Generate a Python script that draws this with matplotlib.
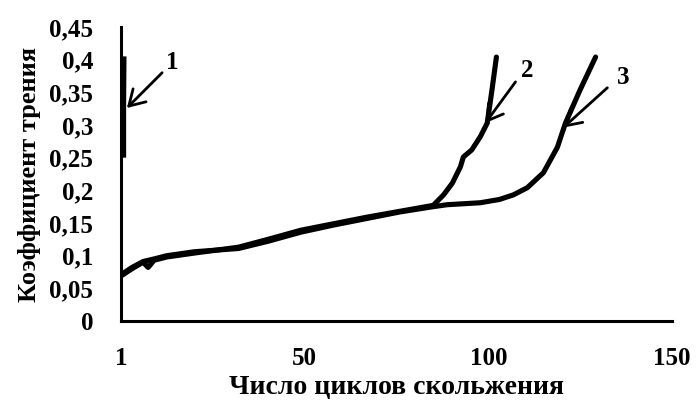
import matplotlib
matplotlib.use("Agg")
import matplotlib.pyplot as plt
from matplotlib.ticker import FuncFormatter

# Data
x1 = [0.7, 0.7, 0.8]
y1 = [0.250, 0.330, 0.405]

x2 = [0.3, 3, 6, 7.4, 9, 12.5, 20, 32, 40, 49, 58, 67, 76, 85, 87.8, 90.2, 92.4, 93.2, 95.5, 97.8, 99.7, 101, 102.2]
y2 = [0.070, 0.080, 0.090, 0.082, 0.093, 0.098, 0.104, 0.113, 0.125, 0.139, 0.149, 0.159, 0.168, 0.177,
      0.193, 0.211, 0.236, 0.251, 0.262, 0.282, 0.303, 0.354, 0.404]

x3 = [0.3, 3, 6, 9, 12.5, 20, 32, 40, 49, 58, 67, 76, 85, 88.8, 97.8, 103, 106.8, 110.6, 115, 118.8, 121, 125, 129.2]
y3 = [0.072, 0.082, 0.091, 0.095, 0.100, 0.106, 0.111, 0.122, 0.136, 0.147, 0.157, 0.167, 0.175, 0.178,
      0.181, 0.186, 0.193, 0.204, 0.227, 0.266, 0.303, 0.354, 0.404]

xticks = [0, 50, 100, 150]
xtick_labels = ["1", "50", "100", "150"]
yticks = [0, 0.05, 0.1, 0.15, 0.2, 0.25, 0.3, 0.35, 0.4, 0.45]

labels = ["1", "2", "3"]
arrow_heads = [(1.6, 0.326), (99.2, 0.303), (120.4, 0.296)]
arrow_tails = [(11.2, 0.380), (107.4, 0.366), (132.4, 0.357)]
label_pos = [(13.9, 0.395), (110.6, 0.384), (136.8, 0.372)]

plt.rcParams['font.family'] = ['Liberation Serif', 'DejaVu Serif']
plt.rcParams['font.weight'] = 'bold'

fig = plt.figure(figsize=(6.96, 4.01), dpi=100)
ax = fig.add_axes([121/696, (401-321)/401, (672-121)/696, (321-27)/401])

lw = 3.7
ax.plot(x3, y3, color='black', lw=lw, solid_capstyle='round', solid_joinstyle='round')
ax.plot(x2, y2, color='black', lw=lw, solid_capstyle='round', solid_joinstyle='round')
ax.plot(x1, y1, color='black', lw=lw, solid_capstyle='butt')

for lab, head, tail, pos in zip(labels, arrow_heads, arrow_tails, label_pos):
    ax.annotate("", xy=head, xytext=tail,
                arrowprops=dict(arrowstyle="->,head_length=0.5,head_width=0.3", color='black', lw=2.0,
                                mutation_scale=22, shrinkA=0, shrinkB=0))
    ax.text(pos[0], pos[1], lab, fontsize=18, fontweight='bold', ha='center', va='center')

ax.set_xlim(0, 150)
ax.set_ylim(0, 0.45)
ax.set_xticks(xticks)
ax.set_xticklabels(xtick_labels)
ax.set_yticks(yticks)
ax.yaxis.set_major_formatter(FuncFormatter(lambda v, p: ("%g" % round(v, 2)).replace('.', ',')))
ax.tick_params(axis='both', length=0, labelsize=18)
ax.tick_params(axis='x', pad=19)
ax.tick_params(axis='y', pad=20)
for lab in ax.get_xticklabels() + ax.get_yticklabels():
    lab.set_fontweight('bold')

for s in ['top', 'right']:
    ax.spines[s].set_visible(False)
for s in ['left', 'bottom']:
    ax.spines[s].set_linewidth(2.2)
    ax.spines[s].set_color('black')

ax.set_xlabel("Число циклов скольжения", fontsize=20, fontweight='bold', labelpad=3)
ax.set_ylabel("Коэффициент трения", fontsize=19, fontweight='bold', labelpad=6)

fig.savefig("out.png", dpi=100)
